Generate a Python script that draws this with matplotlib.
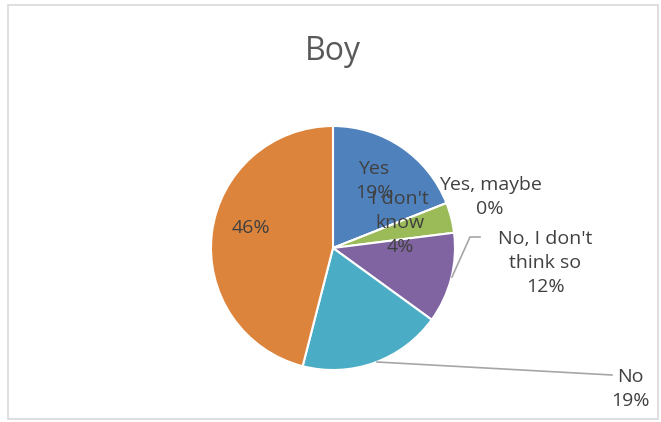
import matplotlib.pyplot as plt
from matplotlib.patches import Rectangle

W, H = 661, 422

labels = ['Yes', 'Yes, maybe', "I don't\nknow", "No, I don't\nthink so", 'No', '']
values = [19, 0, 4, 12, 19, 46]
colors = ['#4F81BD', '#C0504D', '#9BBB59', '#8064A2', '#4BACC6', '#DD843C']

# label positions in pixel coords (from top-left)
label_pos = [(374, 181), (490, 197), (400, 223), (545, 263), (630, 389), (251, 228)]

plt.rcParams['font.family'] = ['Open Sans', 'DejaVu Sans']

fig = plt.figure(figsize=(W / 100, H / 100), dpi=100)
ax = fig.add_axes([0, 0, 1, 1])

cx, cy, r = 333, H - 248, 122
ax.pie(values, colors=colors, startangle=90, counterclock=False,
       center=(cx, cy), radius=r, explode=[0.015] * len(values),
       wedgeprops=dict(edgecolor='white', linewidth=1.5), frame=True)
ax.set_xlim(0, W)
ax.set_ylim(0, H)
ax.axis('off')

for lab, v, (x, y) in zip(labels, values, label_pos):
    txt = f'{lab}\n{v}%' if lab else f'{v}%'
    ax.text(x, H - y, txt, ha='center', va='center', fontsize=14,
            color='#404040', linespacing=1.45)

# leader lines
ax.plot([452, 470, 480], [H - 277, H - 237, H - 237], color='#A6A6A6', lw=1.2)
ax.plot([377, 612], [H - 362, H - 375], color='#A6A6A6', lw=1.2)

ax.text(333, H - 52, 'Boy', ha='center', va='center', fontsize=23, color='#595959')

fig.patches.append(Rectangle((8 / W, 3 / H), 650 / W, 414 / H, transform=fig.transFigure,
                             fill=False, edgecolor='#D9D9D9', lw=1.2))

fig.savefig('out.png', dpi=100)
